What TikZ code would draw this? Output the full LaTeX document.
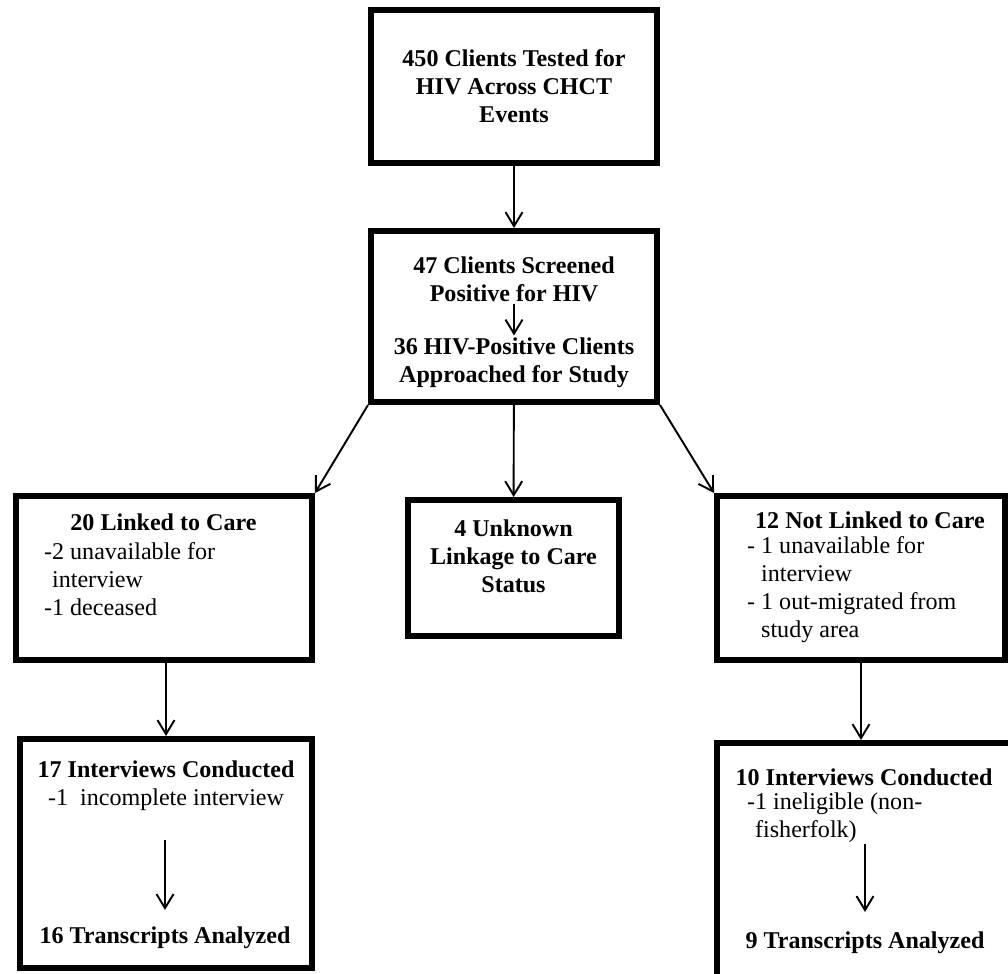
\documentclass[tikz,border=0pt]{standalone}
\usepackage{fontspec}
\setmainfont{Liberation Serif}
\usepackage{tikz}
\usetikzlibrary{arrows.meta, positioning}

\begin{document}
\begin{tikzpicture}[
  box/.style={draw=black, line width=3.4pt, fill=white, inner sep=0pt},
  txt/.style={font=\fontsize{13.7}{15.9}\selectfont, align=center, inner sep=1pt},
  head/.style={txt, font=\fontsize{13.7}{15.9}\selectfont\bfseries},
  sub/.style={txt, align=left, anchor=west},
  arr/.style={-{Straight Barb[length=0.28cm, width=0.34cm]}, line width=1.1pt},
]
  \clip (0, 0) rectangle (20.16, 19.46);
  % boxes
  \node[box, minimum width=5.72cm, minimum height=3.06cm, head] (tested) at (10.28, 17.73) {450 Clients Tested for\\HIV Across CHCT\\Events};
  \node[box, minimum width=5.72cm, minimum height=3.42cm] (screened) at (10.28, 13.13) {};
  \node[box, minimum width=5.92cm, minimum height=3.28cm] (linked) at (3.28, 7.90) {};
  \node[box, minimum width=4.22cm, minimum height=2.72cm] (unknown) at (10.27, 8.10) {};
  \node[box, minimum width=5.76cm, minimum height=3.28cm] (notlinked) at (17.22, 7.90) {};
  \node[box, minimum width=5.84cm, minimum height=4.58cm] (interl) at (3.32, 2.39) {};
  \node[box, minimum width=5.96cm, minimum height=4.74cm] (interr) at (17.32, 2.23) {};

  % texts
  \node[head] (pos) at (10.28, 13.88) {47 Clients Screened\\Positive for HIV};
  \node[head] (appr) at (10.28, 12.21) {36 HIV-Positive Clients\\Approached for Study};
  \node[head] (linkedt) at (3.27, 9.02) {20 Linked to Care};
  \node[sub] (linkeds) at (0.84, 7.87) {-2 unavailable for\\\phantom{-}interview\\-1 deceased};
  \node[head] (unknownt) at (10.27, 8.34) {4 Unknown\\Linkage to Care\\Status};
  \node[head] (notlinkedt) at (17.40, 9.06) {12 Not Linked to Care};
  \node[sub] (notlinkeds) at (14.90, 7.66) {- 1 unavailable for\\\phantom{- }interview\\- 1 out-migrated from\\\phantom{- }study area};
  \node[txt] (interlt) at (3.32, 3.74) {\textbf{17 Interviews Conducted}\\-1\ \ incomplete interview};
  \node[head] (transl) at (3.30, 0.70) {16 Transcripts Analyzed};
  \node[head] (interrt) at (17.28, 3.92) {10 Interviews Conducted};
  \node[sub] (interrs) at (14.90, 3.11) {-1 ineligible (non-\\\phantom{-}fisherfolk)};
  \node[head] (transr) at (17.30, 0.60) {9 Transcripts Analyzed};

  % arrows
  \draw[arr] (tested) -- (screened);
  \draw[arr] (pos) -- (appr);
  \draw[arr] (screened.south west) -- (linked.north east);
  \draw[arr] (screened) -- (unknown);
  \draw[arr] (screened.south east) -- (notlinked.north west);
  \draw[arr] (interl.north |- linked.south) -- (interl);
  \draw[arr] (notlinked) -- (notlinked |- interr.north);
  \draw[arr, shorten <=0.55cm, shorten >=0.3cm] (transl |- interlt.south) -- (transl);
  \draw[arr, shorten >=0.36cm] (transr |- interrs.south) -- (transr);
\end{tikzpicture}
\end{document}
